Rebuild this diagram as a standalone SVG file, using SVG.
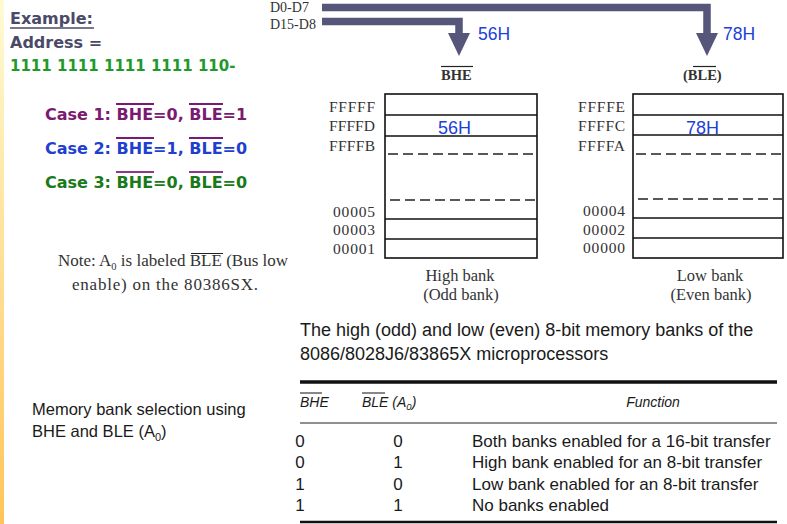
<svg xmlns="http://www.w3.org/2000/svg" width="787" height="524" viewBox="0 0 787 524">
<defs>
<linearGradient id="strip" x1="0" y1="0" x2="0" y2="1">
<stop offset="0" stop-color="#fffbd2"/>
<stop offset="1" stop-color="#ffc45a"/>
</linearGradient>
<marker id="head" markerUnits="userSpaceOnUse" markerWidth="24" markerHeight="24" refX="0" refY="11" orient="auto">
<path d="M0,0 L23,11 L0,22 Z" fill="#56557a"/>
</marker>
<style>
.bus{fill:none;stroke:#56557a;stroke-width:7.5;stroke-linejoin:miter}
.hd{font-family:"DejaVu Sans",Verdana,sans-serif;font-weight:bold;font-size:16px}
.serif{font-family:"Liberation Serif","Times New Roman",serif;fill:#333}
.addr{font-family:"Liberation Serif","Times New Roman",serif;fill:#333;font-size:15.5px;text-anchor:end}
.lbl{font-family:"Liberation Sans",Arial,sans-serif;fill:#2040d8}
.sans{font-family:"Liberation Sans",Arial,sans-serif;fill:#1a1a1a}
.box{fill:none;stroke:#111;stroke-width:1.6}
.row{stroke:#111;stroke-width:1.4}
.dash{stroke:#222;stroke-width:1.4;stroke-dasharray:10 5}
.ov{stroke-width:2}
</style>
</defs>
<rect x="0" y="0" width="787" height="524" fill="#ffffff"/>
<rect x="0" y="0" width="4" height="524" fill="url(#strip)"/>

<g id="example">
<text x="10" y="24" class="hd" fill="#4a4a68">Example:</text>
<line x1="10" y1="28" x2="94" y2="28" stroke="#4a4a68" stroke-width="1.5"/>
<text x="10" y="48" class="hd" fill="#4a4a68">Address =</text>
<text x="10" y="71" class="hd" style="font-size:15px" fill="#1f9a2a">1111 1111 1111 1111 110-</text>
</g>

<g id="cases">
<text x="45" y="120" class="hd" fill="#7a1a70">Case 1: BHE=0, BLE=1</text>
<line x1="116" y1="104" x2="154" y2="104" stroke="#7a1a70" class="ov"/>
<line x1="189" y1="104" x2="223" y2="104" stroke="#7a1a70" class="ov"/>
<text x="45" y="154" class="hd" fill="#1f3fd0">Case 2: BHE=1, BLE=0</text>
<line x1="116" y1="138" x2="154" y2="138" stroke="#7a1a70" class="ov"/>
<line x1="189" y1="138" x2="223" y2="138" stroke="#7a1a70" class="ov"/>
<text x="45" y="188" class="hd" fill="#1a7a1a">Case 3: BHE=0, BLE=0</text>
<line x1="116" y1="172" x2="154" y2="172" stroke="#8a3a88" class="ov"/>
<line x1="189" y1="172" x2="223" y2="172" stroke="#8a3a88" class="ov"/>
</g>

<g id="note">
<text x="58" y="266" class="serif" font-size="17" fill="#222">Note: A<tspan font-size="10.5" dy="4">0</tspan><tspan dy="-4"> is labeled BLE (Bus low</tspan></text>
<line x1="191" y1="253.5" x2="223" y2="253.5" stroke="#222" stroke-width="1"/>
<text x="72" y="290" class="serif" font-size="17" fill="#222" textLength="186">enable) on the 80386SX.</text>
</g>

<g id="connectors">
<path class="bus" d="M322,7.5 H707 V33" marker-end="url(#head)"/>
<path class="bus" d="M322,21.5 H459 V33" marker-end="url(#head)"/>
</g>

<g id="bus-labels">
<text x="270" y="12" class="serif" font-size="14" fill="#555">D0-D7</text>
<text x="270" y="29" class="serif" font-size="14" fill="#555">D15-D8</text>
<text x="478" y="40" class="lbl" font-size="17.5">56H</text>
<text x="723" y="40" class="lbl" font-size="17.5">78H</text>
</g>

<g id="high-bank">
<text x="441" y="80" class="serif" font-size="14.5" font-weight="bold" fill="#222">BHE</text>
<line x1="441" y1="66.5" x2="473" y2="66.5" stroke="#222" stroke-width="1.2"/>
<rect class="box" x="385" y="94" width="152" height="164"/>
<line class="row" x1="385" y1="115" x2="537" y2="115"/>
<line class="row" x1="385" y1="136" x2="537" y2="136"/>
<line class="dash" x1="388" y1="154" x2="536" y2="154"/>
<line class="dash" x1="390" y1="200" x2="536" y2="200"/>
<line class="row" x1="385" y1="219" x2="537" y2="219"/>
<line class="row" x1="385" y1="239" x2="537" y2="239"/>
<text class="addr" x="375" y="112" textLength="46">FFFFF</text>
<text class="addr" x="375" y="131" textLength="46">FFFFD</text>
<text class="addr" x="375" y="151" textLength="46">FFFFB</text>
<text class="addr" x="375" y="217" textLength="42">00005</text>
<text class="addr" x="375" y="235" textLength="42">00003</text>
<text class="addr" x="375" y="254" textLength="42">00001</text>
<text x="438" y="134" class="lbl" font-size="18">56H</text>
<text x="460" y="281" class="serif" font-size="16.5" text-anchor="middle" fill="#222">High bank</text>
<text x="461" y="300" class="serif" font-size="16.5" text-anchor="middle" fill="#222">(Odd bank)</text>
</g>

<g id="low-bank">
<text x="683" y="80" class="serif" font-size="14.5" font-weight="bold" fill="#222">(BLE)</text>
<line x1="693" y1="66.5" x2="716" y2="66.5" stroke="#222" stroke-width="1.2"/>
<rect class="box" x="633" y="94" width="150" height="164"/>
<line class="row" x1="633" y1="115" x2="783" y2="115"/>
<line class="row" x1="633" y1="135" x2="783" y2="135"/>
<line class="dash" x1="636" y1="154" x2="782" y2="154"/>
<line class="dash" x1="638" y1="199" x2="782" y2="199"/>
<line class="row" x1="633" y1="218" x2="783" y2="218"/>
<line class="row" x1="633" y1="238" x2="783" y2="238"/>
<text class="addr" x="625" y="112" textLength="47">FFFFE</text>
<text class="addr" x="625" y="131" textLength="47">FFFFC</text>
<text class="addr" x="625" y="151" textLength="47">FFFFA</text>
<text class="addr" x="625" y="216" textLength="42">00004</text>
<text class="addr" x="625" y="235" textLength="42">00002</text>
<text class="addr" x="625" y="253" textLength="42">00000</text>
<text x="686" y="134" class="lbl" font-size="18">78H</text>
<text x="710" y="281" class="serif" font-size="16.5" text-anchor="middle" fill="#222">Low bank</text>
<text x="711" y="300" class="serif" font-size="16.5" text-anchor="middle" fill="#222">(Even bank)</text>
</g>

<g id="caption">
<text x="300" y="336" class="sans" font-size="18">The high (odd) and low (even) 8-bit  memory banks of the</text>
<text x="300" y="360" class="sans" font-size="18">8086/8028J6/83865X   microprocessors</text>
</g>

<g id="table-title">
<text x="32" y="415" class="sans" font-size="16.5" fill="#222">Memory bank selection using</text>
<text x="32" y="437" class="sans" font-size="16.5" fill="#222">BHE and BLE (A<tspan font-size="11" dy="4">0</tspan><tspan dy="-4">)</tspan></text>
</g>

<g id="table">
<line x1="300" y1="382" x2="777" y2="382" stroke="#111" stroke-width="3.5"/>
<text x="300" y="407" class="sans" font-size="14" font-style="italic">BHE</text>
<line x1="300" y1="393" x2="322" y2="393" stroke="#111" stroke-width="1"/>
<text x="362" y="407" class="sans" font-size="14" font-style="italic">BLE (A<tspan font-size="9.5" dy="3">0</tspan><tspan dy="-3">)</tspan></text>
<line x1="362" y1="393" x2="385" y2="393" stroke="#111" stroke-width="1"/>
<text x="653" y="407" class="sans" font-size="14" font-style="italic" text-anchor="middle">Function</text>
<line x1="300" y1="423" x2="777" y2="423" stroke="#222" stroke-width="1.2"/>
<g class="sans" font-size="17">
<text x="300" y="447" text-anchor="middle">0</text>
<text x="398" y="447" text-anchor="middle">0</text>
<text x="472" y="447">Both banks enabled for a 16-bit transfer</text>
<text x="300" y="468" text-anchor="middle">0</text>
<text x="398" y="468" text-anchor="middle">1</text>
<text x="472" y="468">High bank enabled for an 8-bit transfer</text>
<text x="300" y="490" text-anchor="middle">1</text>
<text x="398" y="490" text-anchor="middle">0</text>
<text x="472" y="490">Low bank enabled for an 8-bit transfer</text>
<text x="300" y="511" text-anchor="middle">1</text>
<text x="398" y="511" text-anchor="middle">1</text>
<text x="472" y="511">No banks enabled</text>
</g>
<line x1="300" y1="522" x2="777" y2="522" stroke="#111" stroke-width="2.5"/>
</g>
</svg>
